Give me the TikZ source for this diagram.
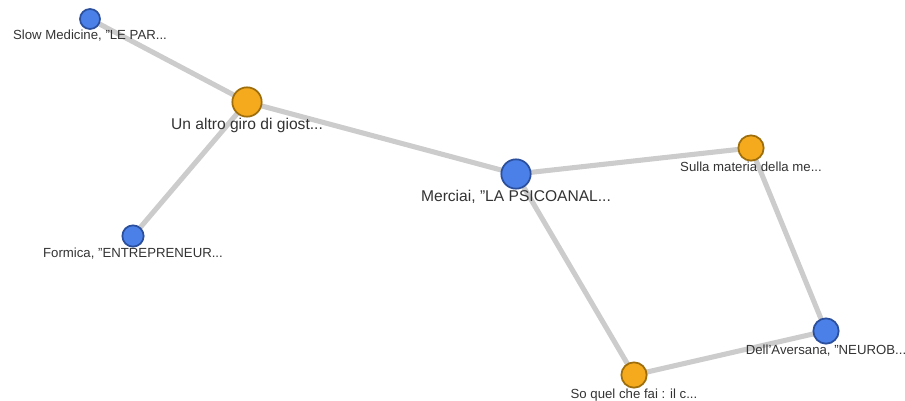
\documentclass[tikz,border=0pt]{standalone}
\usepackage{fontspec}
\setmainfont{Liberation Sans}
\usetikzlibrary{backgrounds}
\definecolor{bookblue}{HTML}{4A80E8}
\definecolor{bookblueline}{HTML}{2B4F9C}
\definecolor{bookorange}{HTML}{F4AA1C}
\definecolor{bookorangeline}{HTML}{9E6E0C}
\definecolor{linkgray}{HTML}{CCCCCC}
\definecolor{labelgray}{HTML}{333333}

\begin{document}
\begin{tikzpicture}[x=0.75pt,y=-0.75pt]
    \useasboundingbox (0,0) rectangle (905,400);

    \tikzstyle{every label}=[inner sep=0pt,label distance=0pt,text=labelgray]
    \tikzstyle{author}=[circle,draw=bookblueline,fill=bookblue,line width=1.3pt,inner sep=0pt]
    \tikzstyle{book}=[circle,draw=bookorangeline,fill=bookorange,line width=1.3pt,inner sep=0pt]
    \tikzstyle{small}=[font=\fontsize{9.9}{11}\selectfont]
    \tikzstyle{big}=[font=\fontsize{11.7}{13}\selectfont]
    \tikzstyle{link}=[draw=linkgray,line width=3.8pt]

    %% Draw the nodes
    \node [author,minimum size=15pt,label={[small]below:Slow Medicine, "LE PAR...}] (slow) at (90,19) {};
    \node [book,minimum size=22pt,label={[big]below:Un altro giro di giost...}] (giro) at (247,102) {};
    \node [author,minimum size=16pt,label={[small]below:Formica, "ENTREPRENEUR...}] (formica) at (133,236) {};
    \node [author,minimum size=22pt,label={[big]below:Merciai, "LA PSICOANAL...}] (merciai) at (516,174) {};
    \node [book,minimum size=19pt,label={[small]below:Sulla materia della me...}] (materia) at (751,148) {};
    \node [author,minimum size=19pt,label={[small]below:Dell'Aversana, "NEUROB...}] (aversana) at (826,331) {};
    \node [book,minimum size=19pt,label={[small]below:So quel che fai : il c...}] (soquel) at (634,375) {};

    %% Draw the links behind the nodes
    \begin{scope}[on background layer]
        \draw [link] (slow.center) -- (giro.center);
        \draw [link] (giro.center) -- (formica.center);
        \draw [link] (giro.center) -- (merciai.center);
        \draw [link] (merciai.center) -- (materia.center);
        \draw [link] (merciai.center) -- (soquel.center);
        \draw [link] (materia.center) -- (aversana.center);
        \draw [link] (aversana.center) -- (soquel.center);
    \end{scope}
\end{tikzpicture}
\end{document}
